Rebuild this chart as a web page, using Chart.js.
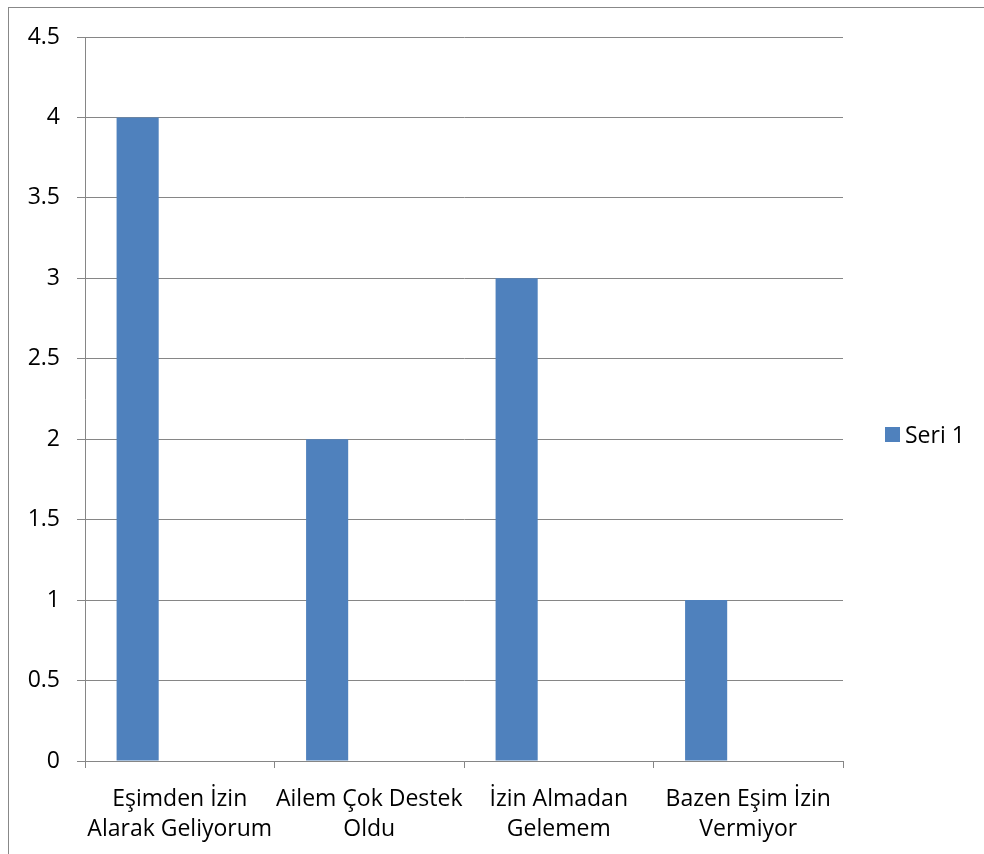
<!DOCTYPE html>
<html><head><meta charset="utf-8">
<script src="https://cdn.jsdelivr.net/npm/chart.js@4"></script>
<style>
html,body{margin:0;padding:0;background:#fff;}
#wrap{position:relative;width:984px;height:854px;}
#frame{position:absolute;left:8px;top:7px;width:1000px;height:900px;border-left:1px solid #888;border-top:1px solid #888;box-sizing:border-box;pointer-events:none;}
canvas{position:absolute;left:0;top:0;}
</style></head>
<body>
<div id="wrap"><canvas id="c" width="984" height="854"></canvas><div id="frame"></div></div>
<script>
const categories = [["Eşimden İzin","Alarak Geliyorum"],["Ailem Çok Destek","Oldu"],["İzin Almadan","Gelemem"],["Bazen Eşim İzin","Vermiyor"]];
const seriesName = "Seri 1";
const seriesValues = [4, 2, 3, 1];
const emptySeries = [null, null, null, null];
const yMin = 0, yMax = 4.5, yStep = 0.5;

const FONT = "'Open Sans', Lato, sans-serif";
const FSIZE = 23;
const BLUE = "#4F81BD";
const GRID = "#868686";

const legendPlugin = {
  id: 'customLegend',
  afterDraw(chart) {
    const ctx = chart.ctx;
    ctx.save();
    ctx.fillStyle = BLUE;
    ctx.fillRect(885, 427, 15, 15);
    ctx.fillStyle = "#000";
    ctx.font = FSIZE + "px " + FONT;
    ctx.textBaseline = "middle";
    ctx.textAlign = "left";
    ctx.fillText(seriesName, 905, 436);
    ctx.restore();
  }
};

new Chart(document.getElementById('c'), {
  type: 'bar',
  data: {
    labels: categories,
    datasets: [
      {label: seriesName, data: seriesValues, backgroundColor: BLUE},
      {label: "Seri 2", data: emptySeries, backgroundColor: "#C0504D"},
      {label: "Seri 3", data: emptySeries, backgroundColor: "#9BBB59"}
    ]
  },
  options: {
    responsive: false,
    animation: false,
    devicePixelRatio: 1,
    categoryPercentage: 3/4.5,
    barPercentage: 1,
    layout: {padding: {top: 37, left: 0, right: 141, bottom: 0}},
    plugins: {legend: {display: false}, tooltip: {enabled: false}},
    scales: {
      x: {
        grid: {display: true, drawOnChartArea: false, drawTicks: true, tickLength: 7, color: GRID, offset: true},
        border: {display: true, color: GRID, width: 1},
        ticks: {color: "#000", font: {family: FONT, size: FSIZE, lineHeight: 30/FSIZE}, padding: 16, maxRotation: 0, autoSkip: false},
        afterFit(s) { s.height = 854 - 761; }
      },
      y: {
        min: yMin, max: yMax,
        grid: {color: GRID, tickLength: 8, drawTicks: true},
        border: {display: true, color: GRID, width: 1},
        ticks: {stepSize: yStep, color: "#000", font: {family: FONT, size: FSIZE}, padding: 17,
          callback: v => String(v)},
        afterFit(s) { s.width = 85; }
      }
    }
  },
  plugins: [legendPlugin]
});
</script>
</body></html>
